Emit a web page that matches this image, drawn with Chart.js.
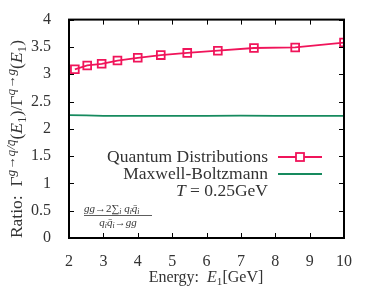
<!DOCTYPE html>
<html>
<head>
<meta charset="utf-8">
<script src="https://cdn.jsdelivr.net/npm/chart.js@4"></script>
<style>
  html, body { margin: 0; padding: 0; background: #fff; }
  #wrap { width: 374px; height: 291px; }
</style>
</head>
<body>
<div id="wrap"><canvas id="c" width="374" height="291"></canvas></div>
<script>
const energies = [2.17, 2.53, 2.95, 3.41, 4.0, 4.67, 5.44, 6.33, 7.38, 8.58, 10.0];
const quantum = [3.09, 3.16, 3.19, 3.25, 3.30, 3.35, 3.39, 3.43, 3.48, 3.49, 3.58];
const mbEnergies = [2.0, 2.5, 3.0, 4.0, 5.0, 6.0, 7.0, 8.0, 9.0, 10.0];
const maxwell = [2.25, 2.245, 2.235, 2.235, 2.235, 2.235, 2.24, 2.235, 2.235, 2.235];
const xTicks = [2, 3, 4, 5, 6, 7, 8, 9, 10];
const yTicks = [0, 0.5, 1, 1.5, 2, 2.5, 3, 3.5, 4];

const RED = '#f0145a';
const GREEN = '#168a5e';
const SERIF = '"Liberation Serif", "DejaVu Serif", serif';

// draw a run of [text, style] parts, style: n normal, i italic, sup, sub, isup, isub
function drawParts(ctx, parts, x, y, size, align, small) {
  const k = small || 0.7;
  const fontFor = (s) => {
    const sm = s.includes('sup') || s.includes('sub');
    const it = s.startsWith('i');
    return (it ? 'italic ' : '') + (sm ? size * k : size) + 'px ' + SERIF;
  };
  let total = 0;
  parts.forEach(p => { ctx.font = fontFor(p[1]); total += ctx.measureText(p[0]).width; });
  let cx = align === 'right' ? x - total : align === 'center' ? x - total / 2 : x;
  ctx.textAlign = 'left';
  ctx.textBaseline = 'alphabetic';
  parts.forEach(p => {
    ctx.font = fontFor(p[1]);
    let dy = 0;
    if (p[1].includes('sup')) dy = -size * 0.38;
    if (p[1].includes('sub')) dy = size * 0.2;
    ctx.fillText(p[0], cx, y + dy);
    cx += ctx.measureText(p[0]).width;
  });
}

const framePlugin = {
  id: 'frame',
  afterDatasetsDraw(chart) {
    const { ctx, chartArea: a, scales: { x, y } } = chart;
    ctx.save();
    ctx.strokeStyle = '#000';
    ctx.lineWidth = 1;
    xTicks.forEach(v => {
      const px = Math.round(x.getPixelForValue(v)) + 0.5;
      ctx.beginPath();
      ctx.moveTo(px, a.bottom); ctx.lineTo(px, a.bottom - 5);
      ctx.moveTo(px, a.top); ctx.lineTo(px, a.top + 5);
      ctx.stroke();
    });
    yTicks.forEach(v => {
      const py = Math.round(y.getPixelForValue(v)) + 0.5;
      ctx.beginPath();
      ctx.moveTo(a.left, py); ctx.lineTo(a.left + 5, py);
      ctx.moveTo(a.right, py); ctx.lineTo(a.right - 5, py);
      ctx.stroke();
    });
    ctx.lineWidth = 2;
    ctx.strokeRect(a.left, a.top, a.right - a.left, a.bottom - a.top);

    // legend
    ctx.fillStyle = '#333';
    const tx = 268, lx0 = 278, lx1 = 322;
    drawParts(ctx, [['Quantum Distributions', 'n']], tx, 162, 17.5, 'right');
    drawParts(ctx, [['Maxwell-Boltzmann', 'n']], tx, 179, 17.5, 'right');
    drawParts(ctx, [['T', 'i'], [' = 0.25GeV', 'n']], tx, 196, 17.5, 'right');
    ctx.lineWidth = 1.8;
    ctx.strokeStyle = RED;
    ctx.beginPath(); ctx.moveTo(lx0, 157); ctx.lineTo(lx1, 157); ctx.stroke();
    ctx.fillStyle = '#fff';
    ctx.fillRect(296, 153, 8, 8);
    ctx.strokeRect(296, 153, 8, 8);
    ctx.strokeStyle = GREEN;
    ctx.beginPath(); ctx.moveTo(lx0, 174); ctx.lineTo(lx1, 174); ctx.stroke();

    // fraction note
    ctx.fillStyle = '#333';
    drawParts(ctx, [['gg', 'i'], ['\u21922', 'n'], ['\u2211', 'n'], ['i', 'isub'], [' q', 'i'], ['i', 'isub'], ['q\u0304', 'i'], ['i', 'isub']], 84, 212, 11, 'left');
    ctx.strokeStyle = '#333';
    ctx.lineWidth = 0.8;
    ctx.beginPath(); ctx.moveTo(84, 215.5); ctx.lineTo(152, 215.5); ctx.stroke();
    drawParts(ctx, [['q', 'i'], ['i', 'isub'], ['q\u0304', 'i'], ['i', 'isub'], ['\u2192', 'n'], ['gg', 'i']], 118, 226, 11, 'center');

    // axis titles
    drawParts(ctx, [['Energy:  ', 'n'], ['E', 'i'], ['1', 'sub'], ['[GeV]', 'n']], 206, 282, 16, 'center');
    ctx.translate(22, 139);
    ctx.rotate(-Math.PI / 2);
    drawParts(ctx, [['Ratio:  \u0393', 'n'], ['g\u2192q/q\u0304', 'isup'], ['(', 'n'], ['E', 'i'], ['1', 'sub'], [')/\u0393', 'n'], ['q\u2192g', 'isup'], ['(', 'n'], ['E', 'i'], ['1', 'sub'], [')', 'n']], 0, 0, 17.5, 'center', 0.76);
    ctx.restore();
  }
};

new Chart(document.getElementById('c'), {
  type: 'scatter',
  data: {
    datasets: [{
      label: 'Maxwell-Boltzmann',
      data: mbEnergies.map((e, i) => ({ x: e, y: maxwell[i] })),
      showLine: true,
      borderColor: GREEN,
      borderWidth: 1.8,
      pointRadius: 0,
    }, {
      label: 'Quantum Distributions',
      data: energies.map((e, i) => ({ x: e, y: quantum[i] })),
      showLine: true,
      borderColor: RED,
      borderWidth: 1.8,
      pointStyle: 'rect',
      pointRadius: 5.5,
      pointBorderWidth: 1.8,
      pointBackgroundColor: 'rgba(255,255,255,0)',
      pointBorderColor: RED,
    }],
  },
  options: {
    responsive: false,
    animation: false,
    layout: { padding: { left: 0, right: 30, top: 15, bottom: 0 } },
    plugins: { legend: { display: false }, tooltip: { enabled: false } },
    scales: {
      x: {
        type: 'linear', min: 2, max: 10,
        afterFit: (s) => { s.height = 53; },
        afterBuildTicks: (s) => { s.ticks = xTicks.map(v => ({ value: v })); },
        grid: { display: false },
        border: { display: false },
        ticks: { color: '#333', padding: 6, font: { family: SERIF, size: 16 }, callback: (v) => String(v) },
      },
      y: {
        type: 'linear', min: 0, max: 4,
        afterFit: (s) => { s.width = 69; },
        afterBuildTicks: (s) => { s.ticks = yTicks.map(v => ({ value: v })); },
        grid: { display: false },
        border: { display: false },
        ticks: { color: '#333', padding: 10, font: { family: SERIF, size: 16 }, callback: (v) => String(v) },
      },
    },
  },
  plugins: [framePlugin],
});
</script>
</body>
</html>
